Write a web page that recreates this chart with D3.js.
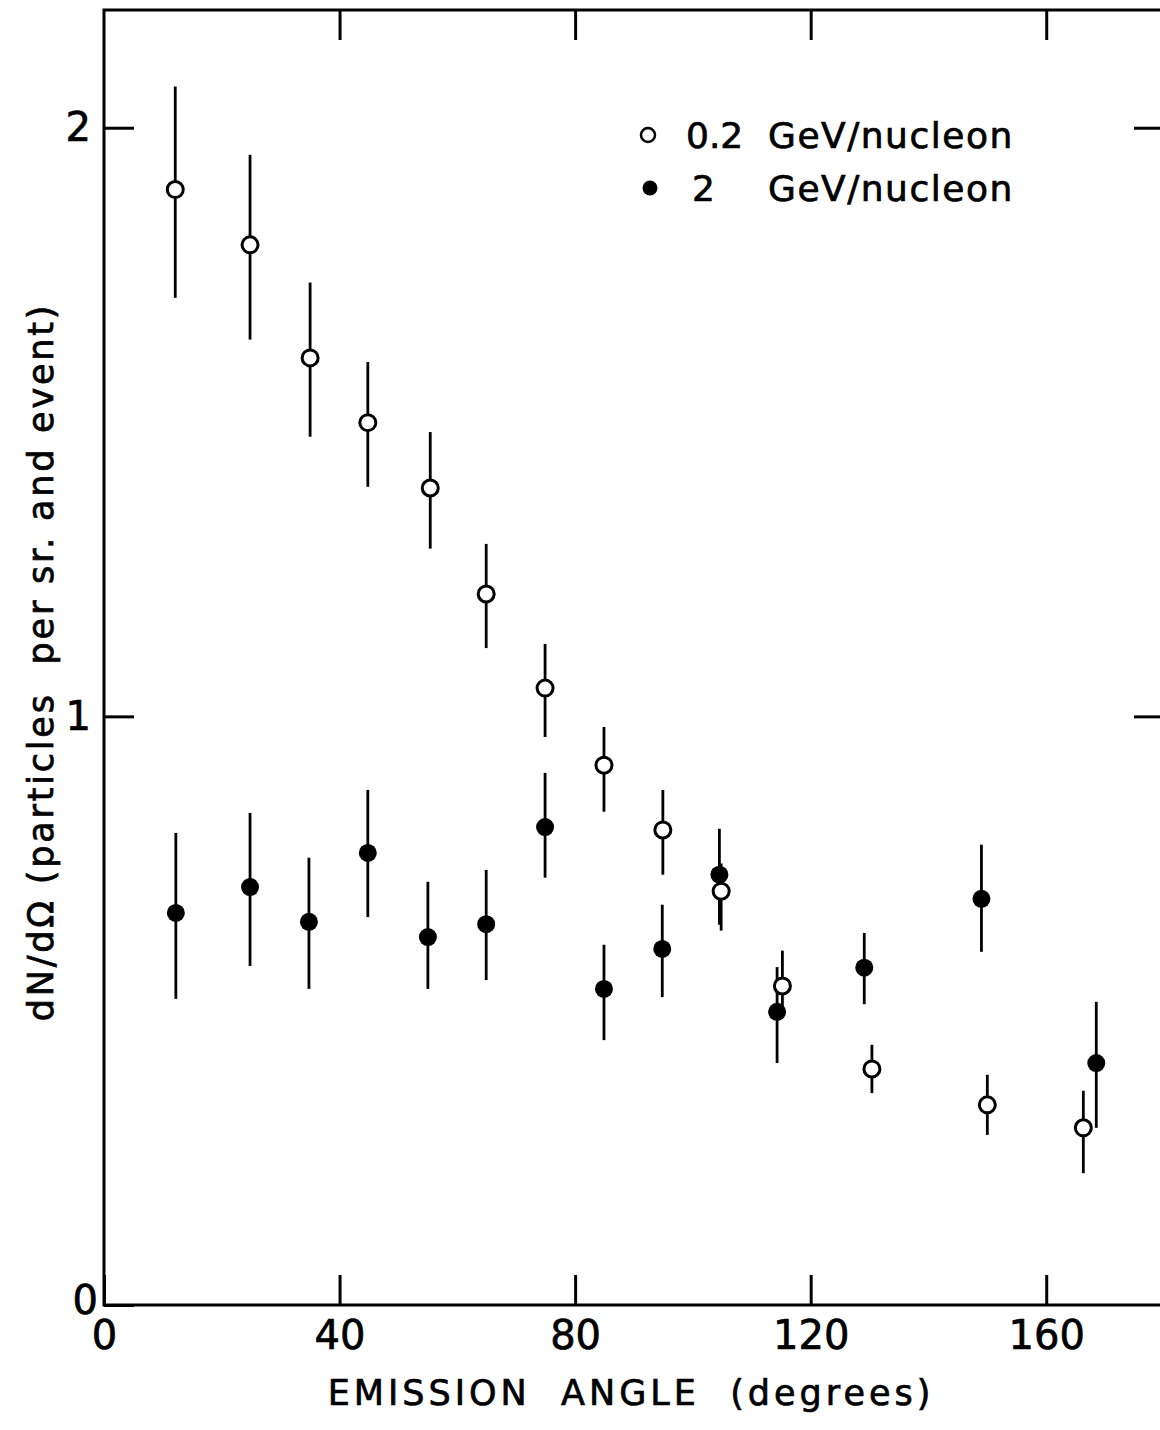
<!DOCTYPE html>
<html>
<head>
<meta charset="utf-8">
<script src="https://cdn.jsdelivr.net/npm/d3@7"></script>
<style>
  body { margin: 0; background: #fff; }
  svg text { font-family: "DejaVu Sans", sans-serif; fill: #000; stroke: #000; stroke-width: 0.7px; }
</style>
</head>
<body>
<svg id="chart" width="1160" height="1430"></svg>
<script>
// series names for the legend
const seriesNames = ["0.2 GeV/nucleon", "2 GeV/nucleon"];

// 0.2 GeV/nucleon (open circles)
const angleLow = [12.1, 24.8, 35.0, 44.8, 55.4, 64.9, 74.9, 84.9, 94.9, 104.8, 115.2, 130.4, 150.0, 166.3];
const valueLow = [1.895, 1.801, 1.609, 1.499, 1.388, 1.208, 1.048, 0.917, 0.807, 0.703, 0.542, 0.401, 0.340, 0.301];
const errTopLow = [2.070, 1.954, 1.737, 1.602, 1.483, 1.293, 1.123, 0.982, 0.875, 0.750, 0.602, 0.442, 0.391, 0.364];
const errBotLow = [1.711, 1.640, 1.475, 1.390, 1.285, 1.116, 0.965, 0.838, 0.731, 0.636, 0.500, 0.360, 0.289, 0.224];

// 2 GeV/nucleon (filled circles)
const angleHigh = [12.2, 24.8, 34.8, 44.8, 55.0, 64.9, 74.9, 84.9, 94.8, 104.5, 114.3, 129.1, 149.0, 168.5];
const valueHigh = [0.666, 0.710, 0.651, 0.768, 0.625, 0.647, 0.812, 0.537, 0.605, 0.731, 0.498, 0.573, 0.690, 0.411];
const errTopHigh = [0.802, 0.836, 0.760, 0.875, 0.719, 0.739, 0.904, 0.612, 0.680, 0.809, 0.574, 0.632, 0.782, 0.515];
const errBotHigh = [0.520, 0.576, 0.537, 0.659, 0.537, 0.552, 0.726, 0.450, 0.523, 0.646, 0.411, 0.511, 0.600, 0.301];

// tick values
const xTicks = [0, 40, 80, 120, 160];
const yTicks = [0, 1, 2];

const svg = d3.select("#chart");
const margin = {left: 104, top: 10, right: -4, bottom: 125};
const width = 1160 - margin.left - margin.right;
const height = 1430 - margin.top - margin.bottom;

const g = svg.append("g").attr("transform", `translate(${margin.left},${margin.top})`);

const x = d3.scaleLinear().domain([0, 180]).range([0, width]);
const y = d3.scaleLinear().domain([0, 2.2]).range([height, 0]);

// frame
g.append("rect")
  .attr("width", width).attr("height", height)
  .attr("fill", "none").attr("stroke", "#000").attr("stroke-width", 3);

// axes, ticks pointing inward
const tickLen = 30;
const bottomAxis = g.append("g")
  .attr("transform", `translate(0,${height})`)
  .call(d3.axisBottom(x).tickValues(xTicks).tickSize(-tickLen).tickPadding(14).tickFormat(d3.format("d")));
const topAxis = g.append("g")
  .call(d3.axisTop(x).tickValues(xTicks.slice(1)).tickSize(-tickLen).tickFormat(""));
const leftAxis = g.append("g")
  .call(d3.axisLeft(y).tickValues(yTicks).tickSize(-tickLen).tickPadding(13).tickFormat(d3.format("d")));
const rightAxis = g.append("g")
  .attr("transform", `translate(${width},0)`)
  .call(d3.axisRight(y).tickValues(yTicks.slice(1)).tickSize(-tickLen).tickFormat(""));

[bottomAxis, topAxis, leftAxis, rightAxis].forEach(a => {
  a.select(".domain").remove();
  a.selectAll("line").attr("stroke", "#000").attr("stroke-width", 3);
});
bottomAxis.selectAll("text").attr("font-size", 40).attr("dy", "0.75em").attr("font-family", "DejaVu Sans Condensed, DejaVu Sans");
leftAxis.selectAll("text").attr("font-size", 40).attr("font-family", "DejaVu Sans Condensed, DejaVu Sans");
leftAxis.selectAll(".tick").filter(d => d === 0).select("text").attr("dy", "0.2em").attr("x", -6);

// build point tables
const lowPts = angleLow.map((a, i) => ({a: a, v: valueLow[i], hi: errTopLow[i], lo: errBotLow[i]}));
const highPts = angleHigh.map((a, i) => ({a: a, v: valueHigh[i], hi: errTopHigh[i], lo: errBotHigh[i]}));

// error bars
g.selectAll(".errHigh").data(highPts).enter().append("line")
  .attr("class", "errHigh")
  .attr("x1", d => x(d.a)).attr("x2", d => x(d.a))
  .attr("y1", d => y(d.hi)).attr("y2", d => y(d.lo))
  .attr("stroke", "#000").attr("stroke-width", 2.8);
g.selectAll(".errLow").data(lowPts).enter().append("line")
  .attr("class", "errLow")
  .attr("x1", d => x(d.a)).attr("x2", d => x(d.a))
  .attr("y1", d => y(d.hi)).attr("y2", d => y(d.lo))
  .attr("stroke", "#000").attr("stroke-width", 2.8);

// filled dots
g.selectAll(".dotHigh").data(highPts).enter().append("circle")
  .attr("class", "dotHigh")
  .attr("cx", d => x(d.a)).attr("cy", d => y(d.v))
  .attr("r", 9).attr("fill", "#000");

// open dots
g.selectAll(".dotLow").data(lowPts).enter().append("circle")
  .attr("class", "dotLow")
  .attr("cx", d => x(d.a)).attr("cy", d => y(d.v))
  .attr("r", 8).attr("fill", "#fff").attr("stroke", "#000").attr("stroke-width", 3);

// legend
const legend = svg.append("g");
legend.append("circle").attr("cx", 648).attr("cy", 135).attr("r", 7)
  .attr("fill", "#fff").attr("stroke", "#000").attr("stroke-width", 2.5);
legend.append("circle").attr("cx", 650).attr("cy", 188).attr("r", 7.5).attr("fill", "#000");
const lowParts = seriesNames[0].split(" ");
const highParts = seriesNames[1].split(" ");
legend.append("text").attr("x", 686).attr("y", 148).attr("font-size", 36).text(lowParts[0]);
legend.append("text").attr("x", 768).attr("y", 148).attr("font-size", 36).attr("letter-spacing", 1.5).text(lowParts[1]);
legend.append("text").attr("x", 692).attr("y", 201).attr("font-size", 36).text(highParts[0]);
legend.append("text").attr("x", 768).attr("y", 201).attr("font-size", 36).attr("letter-spacing", 1.5).text(highParts[1]);

// axis titles
svg.append("text")
  .attr("x", 631).attr("y", 1405)
  .attr("text-anchor", "middle").attr("font-size", 35).attr("letter-spacing", 4)
  .attr("xml:space", "preserve")
  .text("EMISSION  ANGLE  (degrees)");

svg.append("text")
  .attr("transform", "translate(53,662) rotate(-90)")
  .attr("text-anchor", "middle").attr("font-size", 35).attr("letter-spacing", 2.8)
  .attr("xml:space", "preserve")
  .text("dN/dΩ (particles  per sr. and event)");
</script>
</body>
</html>
